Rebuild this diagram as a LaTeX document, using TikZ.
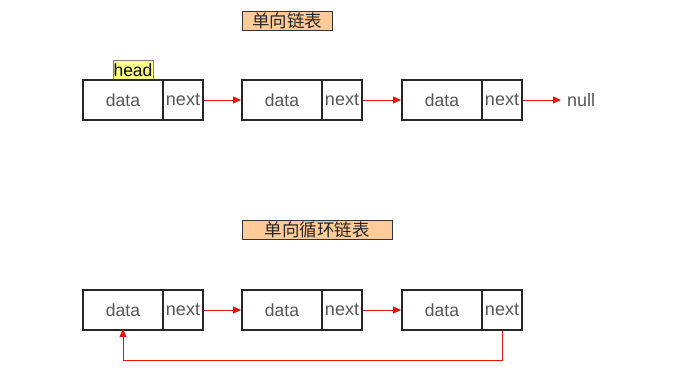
\documentclass[tikz,border=0pt]{standalone}
\usepackage{fontspec}
\setmainfont{Liberation Sans}
\newfontfamily\cjk{Noto Sans CJK SC}
\usetikzlibrary{arrows.meta}
\definecolor{txt}{HTML}{555555}
\definecolor{ttlfill}{HTML}{FFCC99}
\definecolor{headfill}{HTML}{FFFF88}
\definecolor{arr}{HTML}{E8150A}
\begin{document}
\begin{tikzpicture}[x=1pt,y=-1pt,
  databox/.style={draw=black!85,line width=1.8pt,fill=white,minimum width=80pt,minimum height=40pt,inner sep=0pt,text=txt,font=\fontsize{17.5}{17.5}\selectfont},
  nextbox/.style={draw=black!85,line width=1.8pt,fill=white,minimum width=40pt,minimum height=40pt,inner sep=0pt,text=txt,font=\fontsize{18}{18}\selectfont},
  ttl/.style={draw=black!80,line width=0.8pt,fill=ttlfill,minimum height=19pt,inner sep=0pt,font=\cjk\fontsize{17.5}{17.5}\selectfont,text=black!85},
  headbox/.style={draw=black!50,line width=0.6pt,fill=headfill,minimum width=40pt,minimum height=20pt,inner sep=0pt,font=\fontsize{17.5}{17.5}\selectfont},
  link/.style={draw=arr,line width=1pt,-{Triangle[length=8pt,width=7pt]}}
]
\useasboundingbox (0,0) rectangle (680,388);
% titles
\node[ttl,minimum width=90pt] (t1) at (287,20.5) {单向链表};
\node[ttl,minimum width=150pt] (t2) at (317,230) {单向循环链表};
% row 1
\node[headbox] (head) at (133,70) {head};
\node[databox] (d1) at (123,100) {data};
\node[nextbox] (n1) at (183,100) {next};
\node[databox] (d2) at (282,100) {data};
\node[nextbox] (n2) at (342,100) {next};
\node[databox] (d3) at (442,100) {data};
\node[nextbox] (n3) at (502,100) {next};
\node[text=txt,font=\fontsize{18}{18}\selectfont,anchor=west,inner sep=0pt] (null) at (567,100) {null};
\draw[link] (n1.east) -- (d2.west);
\draw[link] (n2.east) -- (d3.west);
\draw[link] (n3.east) -- ([xshift=-6pt]null.west);
% row 2
\node[databox] (e1) at (123,310) {data};
\node[nextbox] (m1) at (183,310) {next};
\node[databox] (e2) at (282,310) {data};
\node[nextbox] (m2) at (342,310) {next};
\node[databox] (e3) at (442,310) {data};
\node[nextbox] (m3) at (502,310) {next};
\draw[link] (m1.east) -- (e2.west);
\draw[link] (m2.east) -- (e3.west);
\coordinate (c1) at (502,360);
\coordinate (c2) at (123,360);
\draw[link] (m3.south) -- (c1) -- (c2) -- ([yshift=2pt]e1.south);
\end{tikzpicture}
\end{document}
